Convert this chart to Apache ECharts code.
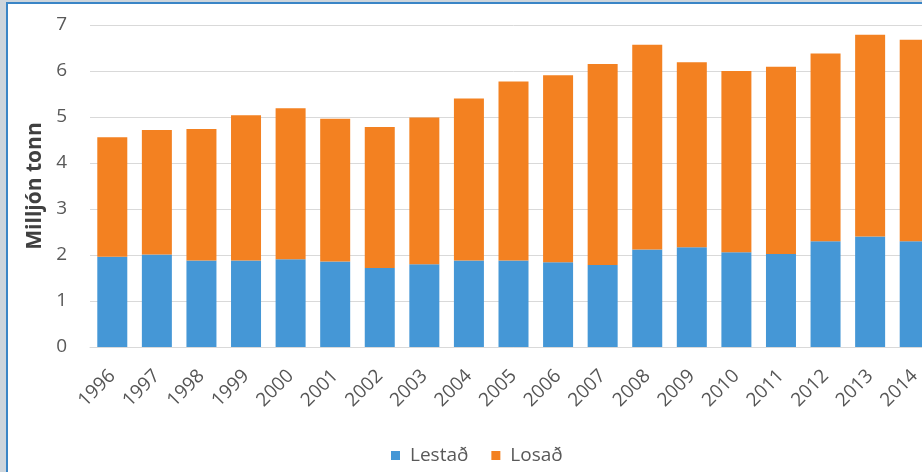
<!DOCTYPE html>
<html>
<head>
<meta charset="utf-8">
<script src="https://cdn.jsdelivr.net/npm/echarts@6/dist/echarts.min.js"></script>
<style>
html,body{margin:0;padding:0;background:#fff;overflow:hidden;width:922px;height:472px;}
#chart{width:946px;height:472px;}
</style>
</head>
<body>
<div id="chart"></div>
<script>
var years = ['1996','1997','1998','1999','2000','2001','2002','2003','2004','2005','2006','2007','2008','2009','2010','2011','2012','2013','2014'];
var lestad = [1.96,2.01,1.88,1.88,1.91,1.86,1.72,1.80,1.88,1.88,1.84,1.78,2.12,2.17,2.06,2.02,2.30,2.40,2.30];
var losad  = [2.60,2.71,2.86,3.16,3.28,3.10,3.06,3.19,3.52,3.89,4.07,4.37,4.45,4.02,3.94,4.07,4.08,4.39,4.38];
var yTicks = [0,1,2,3,4,5,6,7];
var seriesNames = ['Lestað','Losað'];
var axisTitle = 'Milljón tonn';

var FONT = '"Open Sans", "Liberation Sans", sans-serif';
var chart = echarts.init(document.getElementById('chart'), null, {renderer:'canvas'});
chart.setOption({
  animation: false,
  backgroundColor: '#ffffff',
  graphic: [
    {type:'rect', z:-10, silent:true, shape:{x:0,y:0,width:946,height:472}, style:{fill:'#cdd5dc'}},
    {type:'rect', z:-9, silent:true, shape:{x:7,y:3,width:960,height:490}, style:{fill:'#ffffff', stroke:'#3a85c6', lineWidth:2}}
  ],
  grid: {left: 90, right: 9, top: 25, height: 322, containLabel: false},
  legend: {
    data: seriesNames,
    left: 386, top: 441,
    icon: 'rect', itemWidth: 9, itemHeight: 9, itemGap: 23,
    textStyle: {fontFamily: FONT, fontSize: 19, color: '#595959', padding:[0,0,0,5]}
  },
  xAxis: {
    type: 'category',
    data: years,
    axisLine: {show: true, lineStyle: {color: '#d9d9d9', width: 1}},
    axisTick: {show: false},
    axisLabel: {rotate: 45, interval: 0, margin: 26, fontFamily: FONT, fontSize: 19, color: '#555555'}
  },
  yAxis: {
    type: 'value',
    min: 0, max: yTicks[yTicks.length-1], interval: 1,
    name: axisTitle,
    nameLocation: 'middle',
    nameGap: 43,
    nameRotate: 90,
    nameTextStyle: {fontFamily: FONT, fontSize: 21, fontWeight: 'bold', color: '#404040'},
    axisLine: {show: false},
    axisTick: {show: false},
    axisLabel: {margin: 23, fontFamily: FONT, fontSize: 19, color: '#595959'},
    splitLine: {lineStyle: {color: '#d9d9d9', width: 1}}
  },
  series: [
    {name: seriesNames[0], type: 'bar', stack: 'a', data: lestad, barWidth: 30, itemStyle: {color: '#4597d6'}},
    {name: seriesNames[1], type: 'bar', stack: 'a', data: losad, barWidth: 30, itemStyle: {color: '#f38121'}}
  ]
});
</script>
</body>
</html>
